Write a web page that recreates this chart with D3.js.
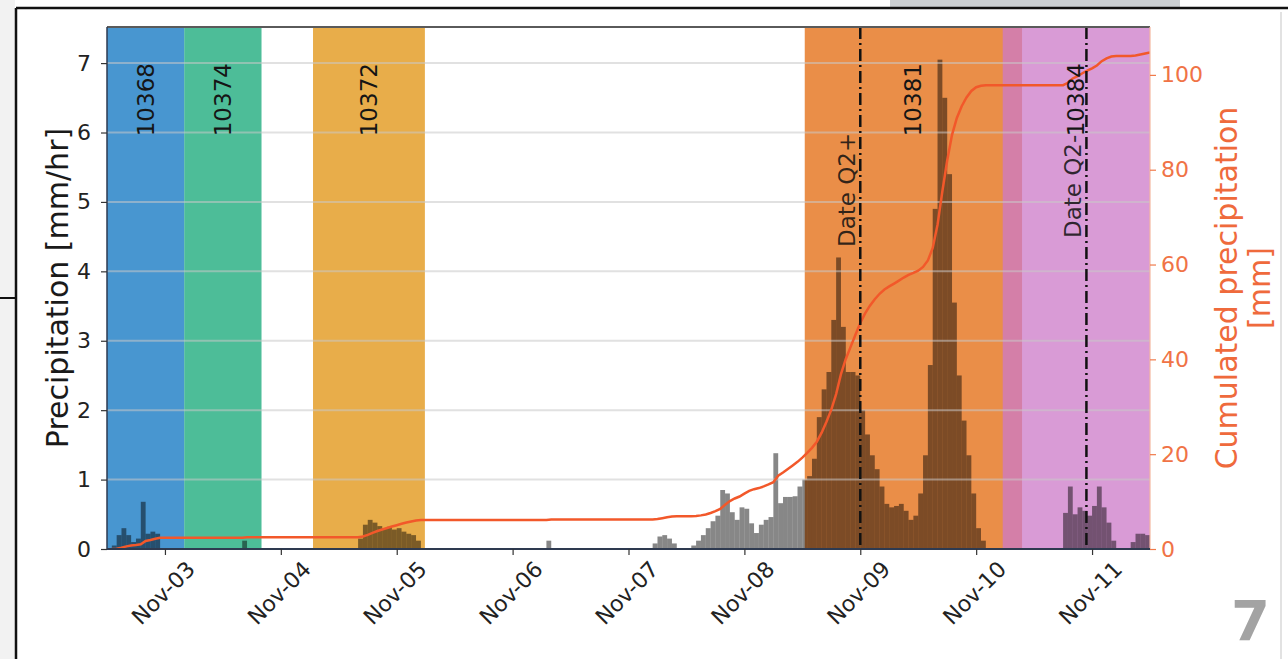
<!DOCTYPE html>
<html>
<head>
<meta charset="utf-8">
<script src="https://cdn.jsdelivr.net/npm/d3@7"></script>
<style>
  body { margin: 0; background: #fff; }
  svg { display: block; }
  text { font-family: "DejaVu Sans", sans-serif; }
</style>
</head>
<body>
<svg id="chart" width="1288" height="659"></svg>
<script>
// Hourly precipitation [mm/hr]; index 0 is the hour starting at startTime
const startTime = "2019-11-02T12:00:00Z";
const endTime = "2019-11-11T12:00:00Z";
const hourlyRain = [
  // Nov-02 12:00 - Nov-03 11:00
  0, 0.05, 0.2, 0.3, 0.2, 0.1, 0.15, 0.68, 0.22, 0.25, 0.22, 0, 0, 0, 0, 0, 0, 0, 0, 0, 0, 0, 0, 0,
  // Nov-03 12:00 - Nov-04 11:00
  0, 0, 0, 0, 0.12, 0, 0, 0, 0, 0, 0, 0, 0, 0, 0, 0, 0, 0, 0, 0, 0, 0, 0, 0,
  // Nov-04 12:00 - Nov-05 11:00
  0, 0, 0, 0, 0.15, 0.35, 0.42, 0.38, 0.33, 0.3, 0.32, 0.28, 0.3, 0.25, 0.22, 0.2, 0.12, 0, 0, 0, 0, 0, 0, 0,
  // Nov-05 12:00 - Nov-06 11:00
  0, 0, 0, 0, 0, 0, 0, 0, 0, 0, 0, 0, 0, 0, 0, 0, 0, 0, 0, 0.12, 0, 0, 0, 0,
  // Nov-06 12:00 - Nov-07 11:00
  0, 0, 0, 0, 0, 0, 0, 0, 0, 0, 0, 0, 0, 0, 0, 0, 0, 0.08, 0.18, 0.2, 0.15, 0.08, 0, 0,
  // Nov-07 12:00 - Nov-08 11:00
  0, 0.05, 0.12, 0.2, 0.3, 0.4, 0.48, 0.85, 0.8, 0.53, 0.42, 0.6, 0.58, 0.37, 0.23, 0.35, 0.42, 0.46, 1.38, 0.66, 0.75, 0.75, 0.76, 0.9,
  // Nov-08 12:00 - Nov-09 11:00
  1.0, 1.05, 1.3, 1.9, 2.3, 2.55, 3.3, 4.2, 3.2, 2.55, 2.55, 2.5, 2.0, 1.65, 1.35, 1.15, 0.9, 0.65, 0.6, 0.62, 0.65, 0.55, 0.42, 0.48,
  // Nov-09 12:00 - Nov-10 11:00
  0.8, 1.35, 2.65, 4.9, 7.05, 6.5, 5.4, 3.55, 2.5, 1.85, 1.35, 0.8, 0.3, 0.12, 0, 0, 0, 0, 0, 0, 0, 0, 0, 0,
  // Nov-10 12:00 - Nov-11 11:00
  0, 0, 0, 0, 0, 0, 0.52, 0.9, 0.5, 0.6, 0.55, 0.48, 0.62, 0.9, 0.6, 0.38, 0.12, 0, 0, 0, 0.1, 0.22, 0.22, 0.2
];
const dayTicks = ["2019-11-03", "2019-11-04", "2019-11-05", "2019-11-06", "2019-11-07",
                  "2019-11-08", "2019-11-09", "2019-11-10", "2019-11-11"];
const leftTicks = [0, 1, 2, 3, 4, 5, 6, 7];
const rightTicks = [0, 20, 40, 60, 80, 100];

// Station periods shaded behind the bars
const spanLabels = ["10368", "10374", "10372", "10381", "10384"];
const spanStarts = ["2019-11-02T12:00:00Z", "2019-11-03T04:00:00Z", "2019-11-04T06:40:00Z",
                    "2019-11-08T12:30:00Z", "2019-11-10T05:30:00Z"];
const spanEnds   = ["2019-11-03T04:00:00Z", "2019-11-03T20:00:00Z", "2019-11-05T05:50:00Z",
                    "2019-11-10T09:30:00Z", "2019-11-11T12:00:00Z"];
const spanColors = ["#0b73c0", "#12a776", "#e0920e", "#e3680b", "#cc7ac8"];

// Event markers
const eventNames = ["Date Q2+", "Date Q2-"];
const eventTimes = ["2019-11-09T00:00:00Z", "2019-11-10T22:50:00Z"];
const eventLabelY = [4.35, 4.48];

const svg = d3.select("#chart");
const L = 107, R = 1150, T = 27, B = 549;
const parse = s => new Date(s);
const HOUR = 3600 * 1000;

// page frame
svg.append("rect").attr("x", 0).attr("y", 0).attr("width", 15).attr("height", 659).attr("fill", "#f2f2f2");
svg.append("rect").attr("x", 890).attr("y", 0).attr("width", 290).attr("height", 7).attr("fill", "#ccd0d3");
svg.append("line").attr("x1", 0).attr("x2", 16).attr("y1", 298).attr("y2", 298).attr("stroke", "#111").attr("stroke-width", 2);
svg.append("line").attr("x1", 16).attr("x2", 1288).attr("y1", 8).attr("y2", 8).attr("stroke", "#111").attr("stroke-width", 2.5);
svg.append("line").attr("x1", 16).attr("x2", 16).attr("y1", 8).attr("y2", 659).attr("stroke", "#111").attr("stroke-width", 2.5);
svg.append("line").attr("x1", 1281).attr("x2", 1281).attr("y1", 12).attr("y2", 659).attr("stroke", "#e2e2e2").attr("stroke-width", 2);

const x = d3.scaleUtc().domain([parse(startTime), parse(endTime)]).range([L, R]);
const yL = d3.scaleLinear().domain([0, 7.52]).range([B, T]);
const yR = d3.scaleLinear().domain([0, 110.1]).range([B, T]);

const plot = svg.append("g");
plot.append("clipPath").attr("id", "clip").append("rect")
  .attr("x", L).attr("y", T).attr("width", R - L).attr("height", B - T);
const inner = plot.append("g").attr("clip-path", "url(#clip)");

// shaded periods
const spans = spanLabels.map((lab, i) => ({
  label: lab, s: parse(spanStarts[i]), e: parse(spanEnds[i]), color: spanColors[i]
}));
inner.selectAll("rect.span").data(spans).join("rect")
  .attr("class", "span")
  .attr("x", d => x(d.s)).attr("width", d => x(d.e) - x(d.s))
  .attr("y", T).attr("height", B - T)
  .attr("fill", d => d.color).attr("fill-opacity", 0.75);

// hourly bars
const t0 = parse(startTime).getTime();
const rain = hourlyRain.map((v, i) => ({ t: new Date(t0 + i * HOUR), t1: new Date(t0 + (i + 1) * HOUR), v }));
inner.selectAll("rect.bar").data(rain.filter(d => d.v > 0)).join("rect")
  .attr("class", "bar")
  .attr("x", d => x(d.t)).attr("width", d => x(d.t1) - x(d.t))
  .attr("y", d => yL(d.v)).attr("height", d => B - yL(d.v))
  .attr("fill", "#000").attr("fill-opacity", 0.47);

// horizontal grid
inner.selectAll("line.grid").data(leftTicks.filter(v => v > 0)).join("line")
  .attr("class", "grid")
  .attr("x1", L).attr("x2", R).attr("y1", d => yL(d)).attr("y2", d => yL(d))
  .attr("stroke", "#c8c8c8").attr("stroke-opacity", 0.55).attr("stroke-width", 2);

// cumulative precipitation
let acc = 0;
const cum = rain.map(d => { acc += d.v; return { t: d.t1, c: acc }; });
inner.append("path").datum(cum)
  .attr("d", d3.line().x(d => x(d.t)).y(d => yR(d.c)))
  .attr("fill", "none").attr("stroke", "#f2582a").attr("stroke-width", 2.5);

// event lines
const events = eventNames.map((n, i) => ({ name: n, t: parse(eventTimes[i]), ly: eventLabelY[i] }));
inner.selectAll("line.event").data(events).join("line")
  .attr("class", "event")
  .attr("x1", d => x(d.t)).attr("x2", d => x(d.t)).attr("y1", T).attr("y2", B)
  .attr("stroke", "#111").attr("stroke-width", 2.5).attr("stroke-dasharray", "12,4,2,4");

// span labels
inner.selectAll("text.spanlab").data(spans).join("text")
  .attr("class", "spanlab")
  .attr("transform", d => `translate(${(x(d.s) + x(d.e)) / 2},${yL(7)}) rotate(-90)`)
  .attr("text-anchor", "end").attr("dominant-baseline", "central")
  .attr("font-size", 23).attr("fill", "#151515")
  .text(d => d.label);

// event labels
inner.selectAll("text.eventlab").data(events).join("text")
  .attr("class", "eventlab")
  .attr("transform", d => `translate(${x(d.t) - 5},${yL(d.ly)}) rotate(-90)`)
  .attr("text-anchor", "start")
  .attr("font-size", 23).attr("fill", "#111").attr("fill-opacity", 0.85)
  .text(d => d.name);

// spines
svg.append("line").attr("x1", L).attr("x2", R).attr("y1", T).attr("y2", T).attr("stroke", "#5a5a5a").attr("stroke-width", 2);
svg.append("line").attr("x1", L).attr("x2", L).attr("y1", T).attr("y2", B).attr("stroke", "#2e3a50").attr("stroke-width", 1.5);
svg.append("line").attr("x1", R).attr("x2", R).attr("y1", T).attr("y2", B).attr("stroke", "#f3b7a0").attr("stroke-width", 1.2);
svg.append("line").attr("x1", L).attr("x2", R).attr("y1", B).attr("y2", B).attr("stroke", "#2e3a50").attr("stroke-width", 2);

// left axis
const gL = svg.append("g").attr("transform", `translate(${L},0)`)
  .call(d3.axisLeft(yL).tickValues(leftTicks).tickFormat(d3.format("d")).tickSize(6).tickPadding(10));
gL.select(".domain").remove();
gL.selectAll("line").attr("stroke", "#333").attr("stroke-width", 1.2);
gL.selectAll("text").attr("font-size", 22).attr("fill", "#222").attr("font-family", "DejaVu Sans");

// right axis
const gR = svg.append("g").attr("transform", `translate(${R},0)`)
  .call(d3.axisRight(yR).tickValues(rightTicks).tickSize(6).tickPadding(5));
gR.select(".domain").remove();
gR.selectAll("line").attr("stroke", "#f07a4a").attr("stroke-width", 1.2);
gR.selectAll("text").attr("font-size", 22).attr("fill", "#f07346").attr("font-family", "DejaVu Sans");

// bottom axis with slanted dates
const gB = svg.append("g").attr("transform", `translate(0,${B})`)
  .call(d3.axisBottom(x).tickValues(dayTicks.map(d => parse(d + "T00:00:00Z")))
    .tickFormat(d3.utcFormat("%b-%d")).tickSize(6));
gB.select(".domain").remove();
gB.selectAll("line").attr("stroke", "#333").attr("stroke-width", 1.2);
gB.selectAll("text")
  .attr("y", null).attr("dy", null)
  .attr("text-anchor", "middle").attr("dominant-baseline", "central")
  .attr("transform", "translate(-2,44) rotate(-45)")
  .attr("font-size", 22).attr("fill", "#222").attr("font-family", "DejaVu Sans");

// axis titles
svg.append("text")
  .attr("transform", `translate(57,${(T + B) / 2}) rotate(-90)`)
  .attr("text-anchor", "middle").attr("dominant-baseline", "central")
  .attr("font-size", 30).attr("fill", "#1a1a1a")
  .text("Precipitation [mm/hr]");
const rt = svg.append("text")
  .attr("transform", `translate(1226,${(T + B) / 2}) rotate(-90)`)
  .attr("text-anchor", "middle").attr("dominant-baseline", "central")
  .attr("font-size", 30).attr("fill", "#ef6a3c");
rt.append("tspan").attr("x", 0).attr("dy", 0).text("Cumulated precipitation");
rt.append("tspan").attr("x", 0).attr("dy", 33).text("[mm]");

// page number
svg.append("text").attr("x", 1270).attr("y", 640).attr("text-anchor", "end")
  .attr("font-family", "Liberation Sans, Arial, sans-serif").attr("font-weight", "bold")
  .attr("font-size", 56).attr("fill", "#a3a3a3").text("7");
</script>
</body>
</html>
